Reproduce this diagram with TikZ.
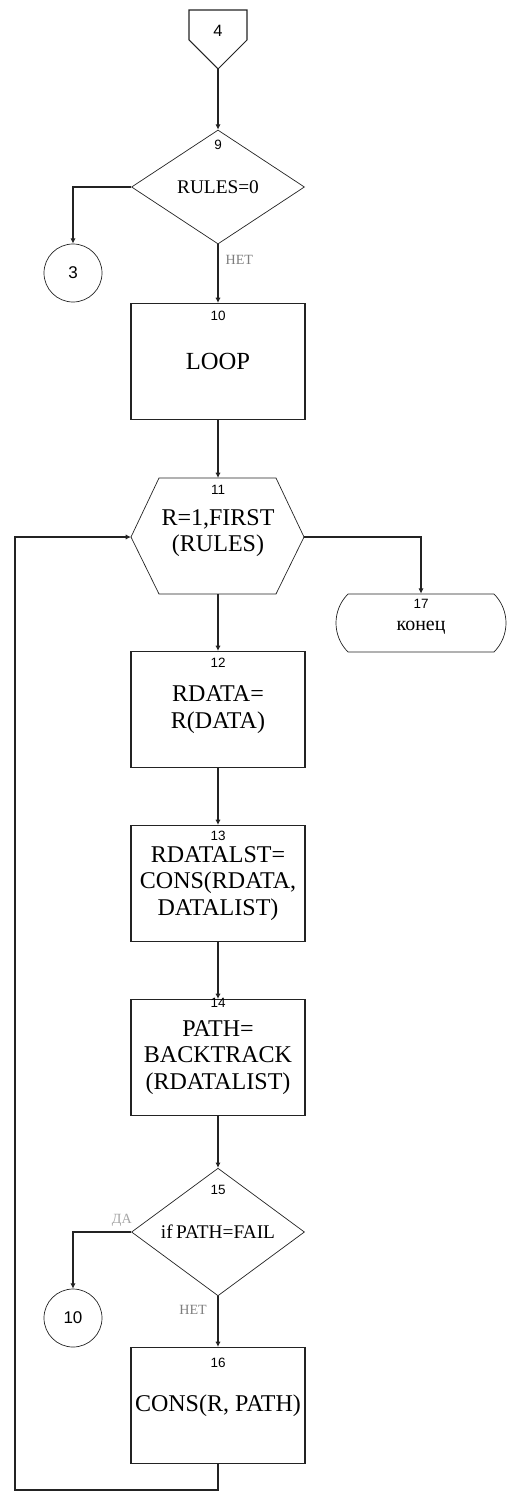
\documentclass[tikz,border=0pt]{standalone}
\usepackage{fontspec}
\setmainfont{Liberation Serif}
\newfontfamily\numfont{Liberation Sans}
\usetikzlibrary{arrows.meta,shapes.geometric,shapes.misc,positioning}
\definecolor{flowline}{RGB}{35,35,35}
\definecolor{notegray}{RGB}{125,125,125}

\begin{document}
\begin{tikzpicture}[
  x=0.03cm,y=-0.03cm,
  proc/.style={rectangle,draw=flowline,line width=0.9pt,minimum width=5.22cm,minimum height=3.48cm,align=center,inner sep=1pt,font=\fontsize{20.5}{22.6}\selectfont},
  cond/.style={diamond,draw=flowline,line width=0.6pt,minimum width=5.19cm,minimum height=3.42cm,inner sep=0pt,font=\fontsize{16.5}{18}\selectfont},
  conn/.style={circle,draw=flowline,line width=0.6pt,minimum size=1.74cm,inner sep=0pt,font=\numfont\fontsize{14.5}{16}\selectfont},
  stopbox/.style={rounded rectangle,rounded rectangle arc length=90,draw=flowline,line width=0.6pt,minimum width=5.1cm,minimum height=1.74cm,inner sep=0pt},
  num/.style={font=\numfont\fontsize{11.5}{12}\selectfont,inner sep=0pt},
  flow/.style={draw=flowline,line width=1.1pt,-{Latex[length=4.5pt,width=4.5pt]}},
  note/.style={text=notegray,font=\fontsize{12}{13}\selectfont,inner sep=1pt},
]
\useasboundingbox (0,0) rectangle (510,1492);

% ---- entry from page 4 ----
\draw[draw=flowline,line width=0.9pt] (189,10) -- (247,10) -- (247,40) -- (218,69) -- (189,40) -- cycle;
\node[font=\numfont\fontsize{14}{15}\selectfont] (c4) at (218,31) {4};
\coordinate (c4tip) at (218,69);

% ---- check rule list ----
\node[cond] (d9) at (218,187) {RULES=0};
\node[num] (n9) at (218,145) {9};
\node[conn] (c3) at (73,273) {3};

\node[proc,font=\fontsize{21}{23}\selectfont] (b10) at (218,361.5) {LOOP};
\node[num] (n10) at (218,316) {10};

% ---- loop head (hexagon) ----
\draw[draw=flowline,line width=0.6pt] (159,478) -- (276,478) -- (304,537) -- (276,594) -- (159,594) -- (131,537) -- cycle;
\coordinate (h11n) at (218,478);
\coordinate (h11s) at (218,594);
\coordinate (h11w) at (131,537);
\coordinate (h11e) at (304,537);
\node[align=center,font=\fontsize{20.5}{22.6}\selectfont] (h11) at (218,533) {R=1,FIRST\\(RULES)};
\node[num] (n11) at (218,490) {11};

\node[stopbox] (t17) at (421,623) {};
\node[num] (n17) at (421,604) {17};
\node[font=\fontsize{17}{18}\selectfont,inner sep=0pt,anchor=base] (t17t) at (421,630) {конец};

% ---- loop body ----
\node[proc] (b12) at (218,709.5) {RDATA=\\R(DATA)};
\node[num] (n12) at (218,663) {12};
\node[proc] (b13) at (218,883.5) {RDATALST=\\CONS(RDATA,\\DATALIST)};
\node[num] (n13) at (218,836) {13};
\node[proc] (b14) at (218,1057.5) {PATH=\\BACKTRACK\\(RDATALIST)};
\node[num] (n14) at (218,1003) {14};

\node[cond] (d15) at (218,1232) {if\,PATH=FAIL};
\node[num] (n15) at (218,1190) {15};
\node[conn] (c10) at (73,1318) {10};

\node[proc] (b16) at (218,1405.5) {CONS(R, PATH)};
\node[num] (n16) at (218,1363) {16};
\coordinate (loopb) at (15,1490);

% ---- connectors ----
\draw[flow] (c4tip) -- (d9.north);
\draw[flow] (d9.west) -| (c3.north);
\draw[flow] (d9.south) -- node[note,pos=0.27,right=5pt] {НЕТ} (b10.north);
\draw[flow] (b10.south) -- (h11n);
\draw[flow] (h11e) -| (t17.north);
\draw[flow] (h11s) -- (b12.north);
\foreach \a/\b in {b12/b13,b13/b14,b14/d15}
  \draw[flow] (\a.south) -- (\b.north);
\draw[flow] (d15.west) -| node[note,pos=0.08,above=3pt,text=notegray!70] {ДА} (c10.north);
\draw[flow] (d15.south) -- node[note,pos=0.27,left=8pt] {НЕТ} (b16.north);
\draw[flow] (b16.south) |- (loopb) |- (h11w);
\end{tikzpicture}
\end{document}
